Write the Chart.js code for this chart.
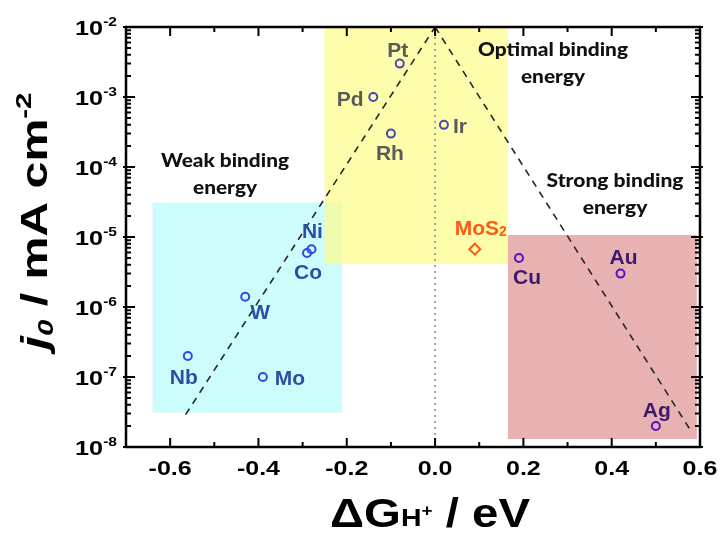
<!DOCTYPE html>
<html>
<head>
<meta charset="utf-8">
<script src="https://cdn.jsdelivr.net/npm/chart.js@4.4.1/dist/chart.umd.min.js"></script>
<style>
  html, body { margin: 0; background: #fff; }
  #wrap { width: 720px; height: 535px; }
</style>
</head>
<body>
<div id="wrap"><canvas id="c" width="720" height="535"></canvas></div>
<script>
/* volcano plot: exchange current density vs. hydrogen binding free energy */

// data
const metals  = ['Pt', 'Pd', 'Rh', 'Ir', 'Ni', 'Co', 'W', 'Nb', 'Mo', 'Cu', 'Au', 'Ag'];
const metalDG = [-0.08, -0.14, -0.10, 0.02, -0.28, -0.29, -0.43, -0.56, -0.39, 0.19, 0.42, 0.50];
const metalJ0 = [3e-3, 1e-3, 3e-4, 4e-4, 6.7e-6, 5.9e-6, 1.4e-6, 2e-7, 1e-7, 5e-6, 3e-6, 2e-8];

const mos2DG = [0.09];
const mos2J0 = [6.7e-6];

const volcanoLeftX  = [-0.565, 0];
const volcanoLeftY  = [2.9e-8, 1e-2];
const volcanoRightX = [0, 0.582];
const volcanoRightY = [1e-2, 1.6e-8];

const zeroLineX = [0, 0];
const zeroLineY = [1e-8, 1e-2];

// shaded regions [min, max]
const weakBoxX    = [-0.64, -0.21];
const weakBoxY    = [3.1e-8, 3.1e-5];
const optimalBoxX = [-0.25, 0.165];
const optimalBoxY = [4.1e-6, 1e-2];
const strongBoxX  = [0.165, 0.593];
const strongBoxY  = [1.3e-8, 1.07e-5];

// ticks
const xTickValues = [-0.6, -0.4, -0.2, 0, 0.2, 0.4, 0.6];
const xTickLabels = ['-0.6', '-0.4', '-0.2', '0.0', '0.2', '0.4', '0.6'];
const xMinorTicks = [-0.5, -0.3, -0.1, 0.1, 0.3, 0.5];
const yTickExponents = [-8, -7, -6, -5, -4, -3, -2];

// styles
const grey = '#5b5b5b', steel = '#2d4ea6', plum = '#3b1a6e';
const pointColors = ['#4a4ab6', '#4a4ab6', '#4a4ab6', '#4a4ab6',
  '#3346ec', '#3346ec', '#3346ec', '#3346ec', '#3346ec',
  '#5512c8', '#5512c8', '#5512c8'];
const labelColors = [grey, grey, grey, grey, steel, steel, steel, steel, steel, plum, plum, plum];
const labelOffsets = [[-2, -15], [-23, 1], [-1, 18], [16, 0], [1, -19], [1, 18],
  [15, 14], [-4, 20], [27, 0], [8, 18], [3, -18], [1, -17]];

const SANS = '"Liberation Sans", Arial, sans-serif';
const NOTE = 'Lato, "Open Sans", sans-serif';

// draw a run of text pieces (sub/superscripts), optionally stretched to a width
function richText(ctx, parts, x, y, align, opts) {
  opts = opts || {};
  let total = 0;
  parts.forEach(p => { ctx.font = p.f; p.w = ctx.measureText(p.t).width; total += p.w; });
  const sx = opts.width ? opts.width / total : (opts.sx || 1);
  let start = x;
  if (align === 'center') start = x - total * sx / 2;
  else if (align === 'right') start = x - total * sx;
  ctx.save();
  ctx.translate(start, y);
  ctx.scale(sx, 1);
  ctx.textAlign = 'left';
  ctx.textBaseline = 'alphabetic';
  let cx = 0;
  parts.forEach(p => {
    ctx.font = p.f;
    ctx.fillStyle = p.c || opts.color || '#000';
    ctx.fillText(p.t, cx, p.dy || 0);
    cx += p.w;
  });
  ctx.restore();
  return sx;
}

const volcanoPlugin = {
  id: 'volcano',
  beforeDatasetsDraw(chart) {
    const { ctx, scales: { x, y } } = chart;
    function box(bx, by, color) {
      const l = x.getPixelForValue(bx[0]), r = x.getPixelForValue(bx[1]);
      const t = y.getPixelForValue(by[1]), b = y.getPixelForValue(by[0]);
      ctx.fillStyle = color;
      ctx.fillRect(l, t, r - l, b - t);
    }
    ctx.save();
    box(weakBoxX, weakBoxY, '#cdfcfc');
    box(optimalBoxX, optimalBoxY, 'rgba(252,252,140,0.72)');
    box(strongBoxX, strongBoxY, '#e8b2b2');
    ctx.restore();
  },
  afterDatasetsDraw(chart) {
    const { ctx, chartArea: a, scales: { x, y } } = chart;
    ctx.save();

    // point labels
    const pts = chart.getDatasetMeta(3).data;
    pts.forEach((el, i) => {
      richText(ctx, [{ t: metals[i], f: 'bold 21px ' + SANS }],
        el.x + labelOffsets[i][0], el.y + labelOffsets[i][1] + 8, 'center', { color: labelColors[i] });
    });
    const m = chart.getDatasetMeta(4).data[0];
    richText(ctx, [{ t: 'MoS', f: 'bold 21px ' + SANS }, { t: '2', f: 'bold 14px ' + SANS, dy: 1 }],
      m.x + 6, m.y - 14, 'center', { color: '#ff5a14' });

    // region notes
    const noteFont = '900 18px ' + NOTE;
    const notes = [
      ['Weak binding', 'energy', 225, 167, 128],
      ['Optimal binding', 'energy', 553, 56, 150],
      ['Strong binding', 'energy', 615, 187, 137],
    ];
    notes.forEach(n => {
      const sx = richText(ctx, [{ t: n[0], f: noteFont }], n[2], n[3], 'center', { width: n[4], color: '#111' });
      richText(ctx, [{ t: n[1], f: noteFont }], n[2], n[3] + 27, 'center', { sx: sx, color: '#111' });
    });

    // frame
    ctx.strokeStyle = '#000';
    ctx.lineWidth = 2.5;
    ctx.strokeRect(a.left, a.top, a.right - a.left, a.bottom - a.top);

    // ticks
    ctx.lineWidth = 2;
    ctx.beginPath();
    xTickValues.forEach(v => {
      const px = x.getPixelForValue(v);
      ctx.moveTo(px, a.bottom); ctx.lineTo(px, a.bottom - 9);
      ctx.moveTo(px, a.top); ctx.lineTo(px, a.top + 9);
    });
    xMinorTicks.forEach(v => {
      const px = x.getPixelForValue(v);
      ctx.moveTo(px, a.bottom); ctx.lineTo(px, a.bottom - 5);
      ctx.moveTo(px, a.top); ctx.lineTo(px, a.top + 5);
    });
    yTickExponents.forEach(e => {
      const py = y.getPixelForValue(Math.pow(10, e));
      ctx.moveTo(a.left - 3, py); ctx.lineTo(a.left + 9, py);
      ctx.moveTo(a.right + 3, py); ctx.lineTo(a.right - 9, py);
      if (e < -2) {
        for (let k = 2; k <= 9; k++) {
          const pm = y.getPixelForValue(k * Math.pow(10, e));
          ctx.moveTo(a.left, pm); ctx.lineTo(a.left + 5, pm);
          ctx.moveTo(a.right, pm); ctx.lineTo(a.right - 5, pm);
        }
      }
    });
    ctx.stroke();

    // tick labels
    xTickValues.forEach((v, i) => {
      richText(ctx, [{ t: xTickLabels[i], f: 'bold 20px ' + SANS }],
        x.getPixelForValue(v), a.bottom + 28, 'center', { sx: 1.25 });
    });
    yTickExponents.forEach(e => {
      const py = y.getPixelForValue(Math.pow(10, e));
      richText(ctx, [{ t: '10', f: 'bold 21px ' + SANS }, { t: String(e), f: 'bold 13px ' + SANS, dy: -9 }],
        a.left - 9, py + 8, 'right', { sx: 1.2 });
    });

    // axis titles
    richText(ctx, [
      { t: '\u0394G', f: 'bold 40px ' + SANS },
      { t: 'H', f: 'bold 24px ' + SANS, dy: -1 },
      { t: '+', f: 'bold 16px ' + SANS, dy: -11 },
      { t: ' / eV', f: 'bold 40px ' + SANS },
    ], 430, 527, 'center', { width: 200 });

    ctx.save();
    ctx.translate(47, 221);
    ctx.rotate(-Math.PI / 2);
    richText(ctx, [
      { t: 'j', f: 'italic bold 36px ' + SANS },
      { t: '0', f: 'italic bold 22px ' + SANS, dy: 6 },
      { t: ' / mA cm', f: 'bold 36px ' + SANS },
      { t: '-2', f: 'bold 22px ' + SANS, dy: -16 },
    ], 0, 0, 'center', { width: 257 });
    ctx.restore();

    ctx.restore();
  }
};

const toPts = (xs, ys) => xs.map((v, i) => ({ x: v, y: ys[i] }));

new Chart(document.getElementById('c'), {
  type: 'scatter',
  data: {
    datasets: [
      { type: 'line', data: toPts(zeroLineX, zeroLineY), borderColor: '#8a8a8a', borderWidth: 1.5,
        borderDash: [2, 4], pointRadius: 0, fill: false },
      { type: 'line', data: toPts(volcanoLeftX, volcanoLeftY), borderColor: '#262626', borderWidth: 1.6,
        borderDash: [7, 6], pointRadius: 0, fill: false },
      { type: 'line', data: toPts(volcanoRightX, volcanoRightY), borderColor: '#262626', borderWidth: 1.6,
        borderDash: [7, 6], pointRadius: 0, fill: false },
      { label: 'metals', data: toPts(metalDG, metalJ0), pointStyle: 'circle', pointRadius: 4,
        pointBorderWidth: 2, pointBorderColor: pointColors, pointBackgroundColor: 'rgba(0,0,0,0)' },
      { label: 'MoS2', data: toPts(mos2DG, mos2J0), pointStyle: 'rectRot', pointRadius: 5.5,
        pointBorderWidth: 2, pointBorderColor: '#ff5a14', pointBackgroundColor: 'rgba(0,0,0,0)' },
    ],
  },
  options: {
    responsive: false,
    animation: false,
    layout: { padding: { left: 126, right: 20, top: 27, bottom: 88 } },
    scales: {
      x: { type: 'linear', min: -0.7, max: 0.6, display: false },
      y: { type: 'logarithmic', min: 1e-8, max: 1e-2, display: false },
    },
    plugins: { legend: { display: false }, tooltip: { enabled: false } },
  },
  plugins: [volcanoPlugin],
});
</script>
</body>
</html>
